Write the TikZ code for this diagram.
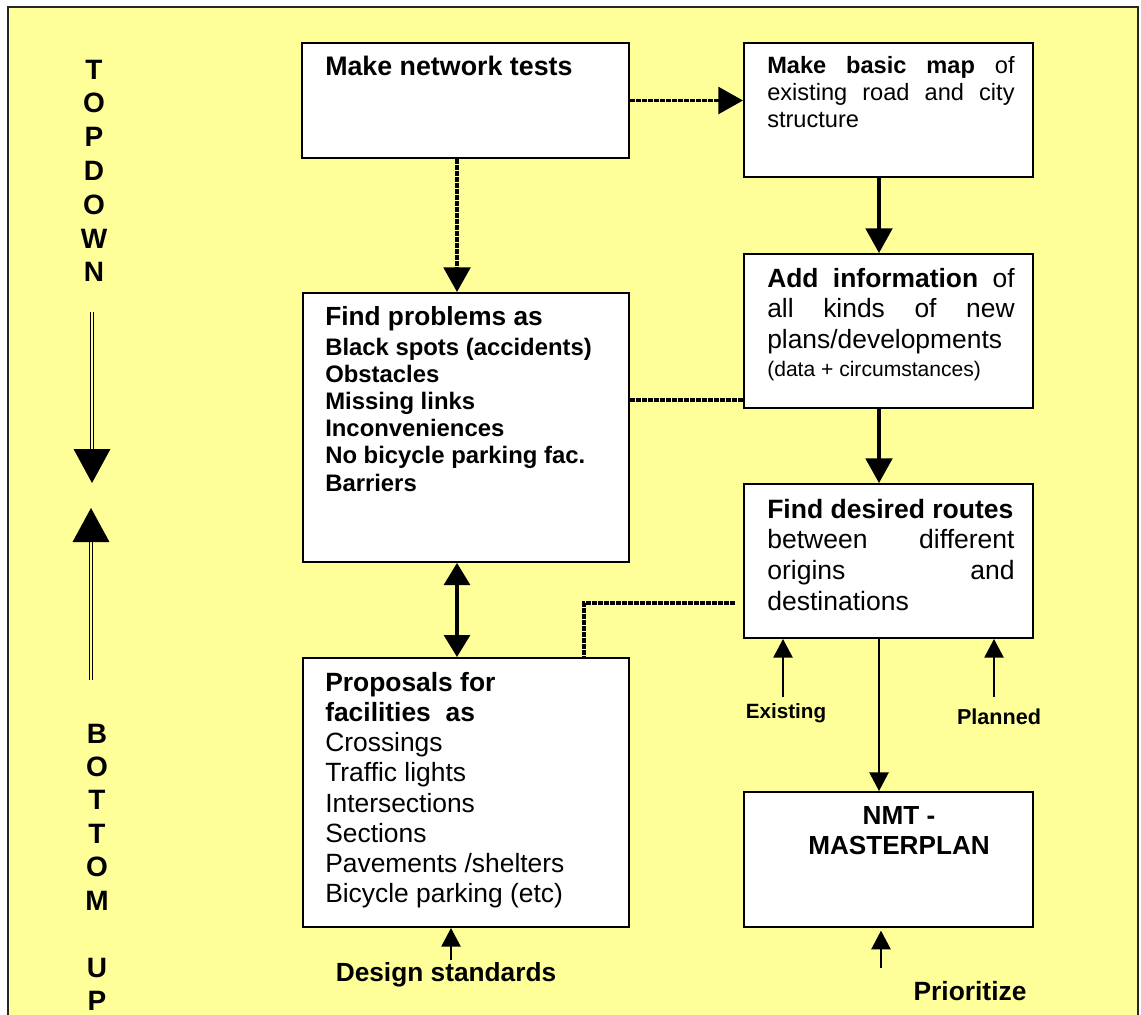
\documentclass[tikz,border=0pt]{standalone}
\usepackage{fontspec}
\setmainfont{Liberation Sans}
\usetikzlibrary{arrows.meta,fit}
\definecolor{bgyellow}{HTML}{FFFF99}
\newdimen\jw \jw=185.5pt
\begin{document}
\begin{tikzpicture}[x=0.75pt,y=-0.75pt,
  box/.style={draw=black, line width=1.5pt, fill=white, inner sep=0pt},
  txt/.style={anchor=base west, inner sep=0pt},
  dsh/.style={line width=2.6pt, dash pattern=on 3.4pt off 1.1pt},
  thk/.style={line width=2.3pt},
  thn/.style={line width=1.1pt},
  bigtip/.style={-{Triangle[length=18.5pt,width=20pt]}},
  smalltip/.style={-{Triangle[length=14pt,width=14.5pt]}},
  dline/.style={draw=black, line width=0.8pt, double=bgyellow, double distance=1.3pt},
  letter/.style={anchor=base, inner sep=0pt, font=\bfseries\fontsize{21}{24}\selectfont},
  lbl/.style={anchor=base, inner sep=0pt}
]
\useasboundingbox (0,0) rectangle (1141,1014);
\clip (0,0) rectangle (1141,1014);
\fill[white] (0,0) rectangle (1141,1014);
\draw[fill=bgyellow, draw=black!85, line width=1.5pt] (8,7) rectangle (1138,1040);

% boxes
\node[box, fit={(302,43) (629,158)}] (b1) {};
\node[box, fit={(744,43) (1033,177)}] (b2) {};
\node[box, fit={(744,254) (1033,408)}] (b3) {};
\node[box, fit={(303,293) (629,562)}] (b4) {};
\node[box, fit={(744,484) (1033,638)}] (b5) {};
\node[box, fit={(303,658) (629,927)}] (b6) {};
\node[box, fit={(744,792) (1033,927)}] (b7) {};

% box texts
\node[txt] (t1) at (325,75) {\bfseries\fontsize{20.1}{24}\selectfont Make network tests};

\node[txt] (t2) at (767,73) {\fontsize{17.7}{20.6}\selectfont\vtop{%
  \hbox to\jw{\bfseries Make\hfill basic\hfill map\hfill\mdseries of}%
  \hbox to\jw{existing\hfill road\hfill and\hfill city}%
  \hbox{structure}}};

\node[txt] (t3) at (767,287) {\fontsize{19.8}{22.9}\selectfont\vtop{%
  \hbox to\jw{\bfseries Add\hfill information\hfill\mdseries of}%
  \hbox to\jw{all\hfill kinds\hfill of\hfill new}%
  \hbox{plans/developments}%
  \baselineskip=21pt
  \hbox{\fontsize{15.8}{19}\selectfont (data + circumstances)}}};

\node[txt] (t4) at (325,325) {\bfseries\fontsize{17.9}{20.4}\selectfont\vtop{%
  \baselineskip=22.5pt
  \hbox{\fontsize{19.7}{22}\selectfont Find problems as}%
  \hbox{Black spots (accidents)}%
  \baselineskip=20.4pt
  \hbox{Obstacles}%
  \hbox{Missing links}%
  \hbox{Inconveniences}%
  \hbox{No bicycle parking fac.}%
  \hbox{Barriers}}};

\node[txt] (t5) at (767,518) {\fontsize{19.9}{23.2}\selectfont\vtop{%
  \hbox{\bfseries Find desired routes}%
  \hbox to\jw{between\hfill different}%
  \hbox to\jw{origins\hfill and}%
  \hbox{destinations}}};

\node[txt] (t6) at (325,691) {\fontsize{19.8}{22.7}\selectfont\vtop{%
  \hbox{\bfseries Proposals for}%
  \hbox{\bfseries facilities\ \ as}%
  \hbox{Crossings}%
  \hbox{Traffic lights}%
  \hbox{Intersections}%
  \hbox{Sections}%
  \hbox{Pavements /shelters}%
  \hbox{Bicycle parking (etc)}}};

\node[lbl] (t7) at (899,824) {\bfseries\fontsize{19.6}{23.2}\selectfont\vtop{%
  \hbox to 200pt{\hfil NMT -\hfil}%
  \hbox to 200pt{\hfil MASTERPLAN\hfil}}};

% connectors
\coordinate (cx1) at (457,0);
\coordinate (cx2) at (879,0);
\coordinate (cx3) at (584,0);
\coordinate (cy1) at (0,400);
\coordinate (cy2) at (0,603);
\draw[dsh, bigtip] (b1.east) -- (b1.east -| b2.west);
\draw[dsh, bigtip] (b1.south -| cx1) -- (b4.north -| cx1);
\draw[thk, bigtip] (b2.south -| cx2) -- (b3.north -| cx2);
\draw[dsh] (b4.east |- cy1) -- (b3.west |- cy1);
\draw[thk, bigtip] (b3.south -| cx2) -- (b5.north -| cx2);
\draw[thk, {Triangle[length=16.5pt,width=19.5pt]}-{Triangle[length=16.5pt,width=19.5pt]}] (b4.south -| cx1) -- (b6.north -| cx1);
\draw[dsh, shorten <=6pt] (b5.west |- cy2) -- (cx3 |- cy2) -- (b6.north -| cx3);
\draw[thn, smalltip] (b5.south -| cx2) -- (b7.north -| cx2);

% inputs
\coordinate (ex) at (783,697);
\coordinate (pl) at (994,697);
\coordinate (pr) at (881,968);
\coordinate (ds) at (451,960);
\draw[thn, smalltip] (ex) -- (b5.south -| ex);
\draw[thn, smalltip] (pl) -- (b5.south -| pl);
\draw[thn, smalltip, shorten >=2pt] (pr) -- (b7.south -| pr);
\draw[thn, smalltip] (ds) -- (b6.south -| ds);
\node[lbl, font=\bfseries\fontsize{15.5}{18}\selectfont] (lex) at (786,718) {Existing};
\node[lbl, font=\bfseries\fontsize{16.2}{18}\selectfont] (lpl) at (999,724) {Planned};
\node[lbl, font=\bfseries\fontsize{19.7}{23}\selectfont] (lds) at (446,981) {Design standards};
\node[lbl, font=\bfseries\fontsize{19.8}{23}\selectfont] (lpr) at (970,1000) {Prioritize};

% left side: TOP DOWN / BOTTOM UP
\foreach \c [count=\i] in {T,O,P,D,O,W,N}
  \node[letter] (td\i) at (94,{79+33.8*(\i-1)}) {\c};
\foreach \c [count=\i] in {B,O,T,T,O,M}
  \node[letter] (bu\i) at (97,{743+33.4*(\i-1)}) {\c};
\node[letter] (bu7) at (97,977) {U};
\node[letter] (bu8) at (97,1010) {P};

\coordinate (d1s) at (92,312);
\coordinate (d1m) at (92,449);
\coordinate (d1e) at (92,483);
\draw[dline] (d1s) -- (d1m);
\fill (d1m) ++(-18.5,0) -- ++(37,0) -- (d1e) -- cycle;
\coordinate (d2s) at (91,680);
\coordinate (d2m) at (91,542);
\coordinate (d2e) at (91,508);
\draw[dline] (d2s) -- (d2m);
\fill (d2m) ++(-18.5,0) -- ++(37,0) -- (d2e) -- cycle;
\end{tikzpicture}
\end{document}
